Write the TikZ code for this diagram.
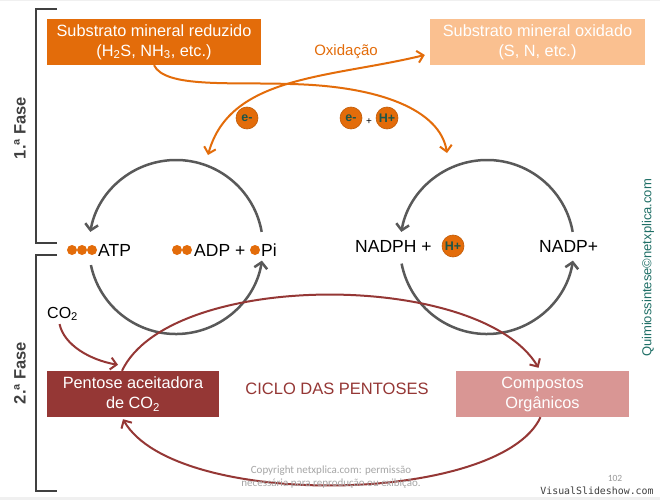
\documentclass[tikz,border=0pt]{standalone}
\usepackage{fontspec}
\setmainfont{Liberation Sans}
\newfontfamily\copyfnt{Carlito}
\newfontfamily\monofnt{DejaVu Sans Mono}
\usetikzlibrary{arrows.meta,calc}
\definecolor{orbox}{HTML}{E36C0A}
\definecolor{peach}{HTML}{FAC090}
\definecolor{dred}{HTML}{953735}
\definecolor{pinkbox}{HTML}{D99694}
\definecolor{garc}{HTML}{595959}
\definecolor{tealq}{HTML}{1F6F66}
\definecolor{badgetxt}{HTML}{1D5548}
\definecolor{brk}{HTML}{404040}
\tikzset{
  box/.style={rectangle, minimum height=46, inner sep=0pt, align=center, text=white,
    font=\fontsize{16.3}{20}\selectfont},
  badge/.style={circle, fill=orbox, draw=orbox!85!black, line width=0.6pt, minimum size=22pt,
    inner sep=0pt, text=badgetxt, font=\fontsize{12.5}{12}\selectfont\bfseries},
  lbl/.style={inner sep=0pt, anchor=west, font=\fontsize{17.5}{20}\selectfont},
  phase/.style={rotate=90, text=brk, font=\fontsize{16.5}{18}\selectfont\bfseries},
  bracketline/.style={draw=brk, line width=2pt},
  greyarc/.style={draw=garc, line width=2.5pt, -{Straight Barb[length=6pt,width=13pt]}},
  oline/.style={draw=orbox, line width=2pt},
  otip/.style={-{Straight Barb[length=6pt,width=12pt]}},
  obtip/.style={{Straight Barb[length=6pt,width=12pt]}-{Straight Barb[length=6pt,width=12pt]}},
  rline/.style={draw=dred, line width=2pt, -{Straight Barb[length=6pt,width=12pt]}},
  dotc/.style={fill=orbox}
}
\begin{document}
\begin{tikzpicture}[x=1pt,y=-1pt]
\useasboundingbox (0,0) rectangle (660,500);
\fill[white] (0,0) rectangle (660,500);
\fill[gray!12] (0,0) rectangle (660,1.5);
\fill[gray!12] (0,497) rectangle (660,500);

% phase brackets
\draw[bracketline] (57,9) -- (36,9) -- (36,243) -- (57,243);
\draw[bracketline] (57,255) -- (36,255) -- (36,491) -- (57,491);
\node[phase] (f1) at (20,128) {1.ª Fase};
\node[phase] (f2) at (20,373) {2.ª Fase};

% boxes
\node[box, fill=orbox, minimum width=214] (sub1) at (154,42) {Substrato mineral reduzido\\(H\textsubscript{2}S, NH\textsubscript{3}, etc.)};
\node[box, fill=peach, minimum width=215] (sub2) at (537.5,42) {Substrato mineral oxidado\\(S, N, etc.)};
\node[box, fill=dred, minimum width=172] (pent) at (133,394) {Pentose aceitadora\\de CO\textsubscript{2}};
\node[box, fill=pinkbox, minimum width=173] (comp) at (542.5,394) {Compostos\\Orgânicos};

\node[text=orbox, font=\fontsize{15}{18}\selectfont] (oxi) at (346,52) {Oxidação};
\node[text=dred, font=\fontsize{16.5}{18}\selectfont] (ciclo) at (337,389) {CICLO DAS PENTOSES};

% badges
\node[badge] (e1) at (247,118) {e-};
\node[badge] (e2) at (351,118) {e-};
\node[font=\fontsize{10}{10}\selectfont] (plus) at (369,122) {+};
\node[badge] (h1) at (387,118) {H+};

% circle labels
\foreach \px in {72,82,92,177,187,255} \fill[dotc] (\px,250) circle (5);
\node[lbl] (atp) at (98,250) {ATP};
\node[lbl] (adp) at (194,250) {ADP +};
\node[lbl] (pi) at (261,250) {Pi};
\node[lbl] (nadph) at (355,246.5) {NADPH +};
\node[badge] (h2) at (453,246) {H+};
\node[lbl] (nadp) at (539,246) {NADP+};

% grey cycles
\coordinate (lc) at (176,247);
\coordinate (rc) at (487,247);
\draw[greyarc] (lc) ++(-10:87) arc[start angle=-10, end angle=-170, radius=87];
\draw[greyarc] (lc) ++(168:87) arc[start angle=168, end angle=9, radius=87];
\draw[greyarc] (rc) ++(-10:87) arc[start angle=-10, end angle=-170, radius=87];
\draw[greyarc] (rc) ++(169:87) arc[start angle=169, end angle=9, radius=87];

% orange connectors
\coordinate (lcin) at (208,155);
\coordinate (rcin) at (447,153);
\coordinate (j) at (290,84);
\draw[oline, otip] (sub1.south) .. controls (165,88) and (230,82) .. (j)
   .. controls (380,86) and (440,110) .. (rcin);
\draw[oline, obtip] ($(sub2.west)+(-5,13)$) .. controls (330,78) and (230,75) .. (lcin);

% CO2 and pentose cycle
\node[font=\fontsize{16}{18}\selectfont, inner sep=0pt, anchor=west] (co2) at (47,314) {CO\textsubscript{2}};
\draw[rline] ($(co2.south)+(-3,3)$) .. controls (64,345) and (90,360) .. ($(pent.north)+(-15,-6)$);
\draw[rline] ($(pent.north)+(-11,0)$) .. controls (170,270) and (480,270) .. ($(comp.north)+(-4,-3)$);
\draw[rline] ($(comp.south)+(-2,0)$) .. controls (500,505) and (175,510) .. ($(pent.south)+(-10,2)$);

% side and footer texts
\node[rotate=90, text=tealq, font=\fontsize{13}{15}\selectfont] (quim) at (648,268) {Quimiossintese©netxplica.com};
\node[align=center, text=gray!70, font=\copyfnt\fontsize{11}{13}\selectfont] (copy) at (331,477) {Copyright netxplica.com: permissão\\necessária para reprodução ou exibição.};
\node[text=gray!80, font=\copyfnt\fontsize{9.5}{11}\selectfont] (pg) at (615,478) {102};
\node[text=brk, font=\monofnt\fontsize{9.9}{11}\selectfont] (vs) at (597,491) {VisualSlideshow.com};
\end{tikzpicture}
\end{document}
